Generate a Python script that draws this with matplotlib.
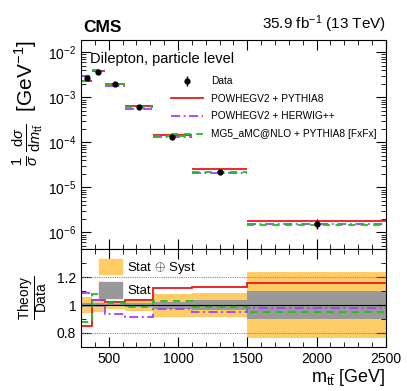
import numpy as np
import matplotlib
matplotlib.use('Agg')
import matplotlib.pyplot as plt
from matplotlib.patches import Patch
from matplotlib.lines import Line2D
from matplotlib.ticker import FixedLocator, MultipleLocator, LogLocator, NullFormatter

plt.rcParams['font.family'] = ['Liberation Sans', 'DejaVu Sans']
plt.rcParams['mathtext.fontset'] = 'custom'
plt.rcParams['mathtext.rm'] = 'Liberation Sans'
plt.rcParams['mathtext.it'] = 'Liberation Sans:italic'

# bin edges of m_tt [GeV]
edges = [300, 380, 470, 620, 820, 1100, 1500, 2500]
# normalised cross section from data [GeV^-1]
data = [2.7e-3, 3.72e-3, 1.94e-3, 6.1e-4, 1.34e-4, 2.23e-5, 1.58e-6]
# relative uncertainties
tot_unc = [0.057, 0.047, 0.03, 0.042, 0.083, 0.087, 0.24]
stat_unc = [0.015, 0.012, 0.01, 0.013, 0.025, 0.035, 0.098]
# theory / data ratios
r_pow_py = [0.85, 1.04, 1.02, 1.04, 1.12, 1.13, 1.16]
r_pow_hw = [1.09, 1.035, 0.935, 0.915, 0.97, 0.95, 0.98]
r_mg5 = [0.88, 1.08, 1.015, 0.985, 1.03, 0.985, 0.95]

models = [
    ('POWHEGV2 + PYTHIA8', r_pow_py, '#e8191a', '-'),
    ('POWHEGV2 + HERWIG++', r_pow_hw, '#a040ff', (0, (5, 2, 1, 2))),
    ('MG5_aMC@NLO + PYTHIA8 [FxFx]', r_mg5, '#20c020', (0, (4, 3))),
]

edges = np.array(edges)
data = np.array(data)
centers = 0.5 * (edges[:-1] + edges[1:])

fig = plt.figure(figsize=(4.07, 3.91), dpi=100)
ax = fig.add_axes([0.199, 0.362, 0.749, 0.536])
rx = fig.add_axes([0.199, 0.113, 0.749, 0.249], sharex=ax)

# main panel
for name, r, c, ls in models:
    mc = data * np.array(r)
    ax.hlines(mc, edges[:-1], edges[1:], colors=c, linestyles=ls, lw=1.3)
eb = ax.errorbar(centers, data, yerr=data * np.array(tot_unc), fmt='o', color='k',
                 ms=3.5, elinewidth=1, capsize=0, zorder=5)
ax.set_yscale('log')
ax.set_ylim(4.2e-7, 1.9e-2)
ax.set_xlim(300, 2500)
ax.yaxis.set_major_locator(LogLocator(base=10, numticks=10))
ax.yaxis.set_minor_locator(LogLocator(base=10, subs=np.arange(2, 10), numticks=100))
ax.yaxis.set_minor_formatter(NullFormatter())
ax.tick_params(labelbottom=False)
ax.set_ylabel(r'$\frac{1}{\sigma}\,\frac{\mathrm{d}\sigma}{\mathrm{d}m_{\mathrm{t}\bar{\mathrm{t}}}}$  [GeV$^{-1}$]',
              fontsize=15, loc='top', labelpad=2)
ax.text(0.03, 0.94, 'Dilepton, particle level', transform=ax.transAxes,
        fontsize=10.5, va='top', ha='left')
fig.text(0.205, 0.91, 'CMS', fontsize=12.5, fontweight='bold', ha='left', va='bottom')
fig.text(0.948, 0.91, r'35.9 fb$^{-1}$ (13 TeV)', fontsize=11, ha='right', va='bottom')

handles = [eb]
labels = ['Data']
for name, r, c, ls in models:
    handles.append(Line2D([], [], color=c, ls=ls, lw=1.3))
    labels.append(name)
ax.legend(handles, labels, loc='upper left', bbox_to_anchor=(0.265, 0.87),
          fontsize=7.3, frameon=False, handlelength=3.2, labelspacing=0.75)

# ratio panel
tot = np.array(tot_unc)
stat = np.array(stat_unc)
rx.stairs(1 + tot, edges, baseline=1 - tot, fill=True, color='#ffcc66', lw=0)
rx.stairs(1 + stat, edges, baseline=1 - stat, fill=True, color='#999999', lw=0)
rx.axhline(1, color='k', lw=0.8)
for y in (0.8, 1.2):
    rx.axhline(y, color='#888888', lw=0.8, ls=(0, (1, 1)))
for name, r, c, ls in models:
    rx.stairs(r, edges, color=c, ls=ls, lw=1.3, baseline=None)
rx.set_ylim(0.7, 1.4)
rx.yaxis.set_major_locator(FixedLocator([0.8, 1.0, 1.2]))
rx.yaxis.set_minor_locator(MultipleLocator(0.1))
rx.set_yticklabels(['0.8', '1', '1.2'])
rx.xaxis.set_major_locator(MultipleLocator(500))
rx.xaxis.set_minor_locator(MultipleLocator(100))
rx.set_ylabel(r'$\frac{\mathrm{Theory}}{\mathrm{Data}}$', fontsize=14, labelpad=4)
rx.set_xlabel(r'm$_{\mathrm{t}\bar{\mathrm{t}}}$ [GeV]', fontsize=13, loc='right', labelpad=1)
rx.legend([Patch(color='#ffcc66'), Patch(color='#999999')],
          ['Stat $\\oplus$ Syst', 'Stat'], loc='upper left',
          bbox_to_anchor=(0.03, 1.0), fontsize=9.5, frameon=False,
          handlelength=1.7, handleheight=1.4, handletextpad=0.4,
          labelspacing=0.5, borderaxespad=0.3)

for a in (ax, rx):
    a.tick_params(which='both', direction='in', top=True, right=True, labelsize=10)
    a.tick_params(which='major', length=7)
    a.tick_params(which='minor', length=3.5)

fig.savefig('out.png', dpi=100)
